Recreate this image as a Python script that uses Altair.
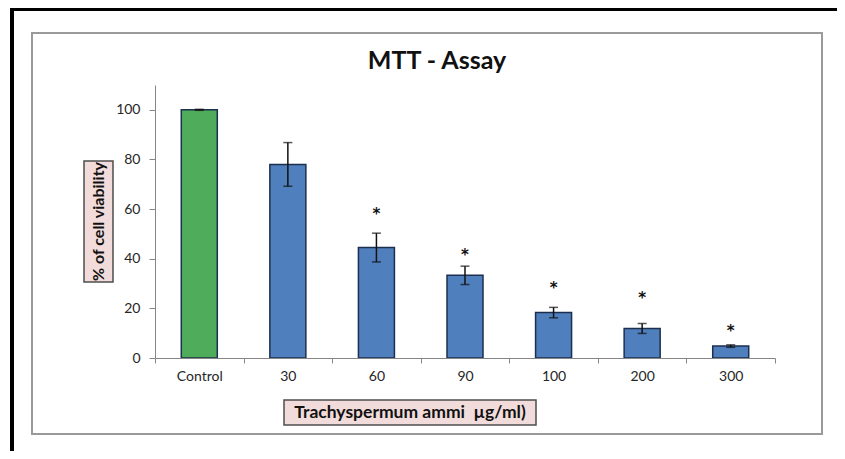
import altair as alt
import pandas as pd

categories = ["Control", "30", "60", "90", "100", "200", "300"]
viability = [100, 78, 44.5, 33.3, 18.3, 11.9, 4.8]
sd = [0.2, 8.8, 5.8, 3.7, 2.1, 2.0, 0.5]
markers = ["", "", "*", "*", "*", "*", "*"]
marker_y = [0, 0, 59, 42.5, 29, 25, 11.7]
groups = ["control", "treated", "treated", "treated", "treated", "treated", "treated"]

df = pd.DataFrame({
    "cat": categories,
    "v": viability,
    "lo": [v - s for v, s in zip(viability, sd)],
    "hi": [v + s for v, s in zip(viability, sd)],
    "mark": markers,
    "my": marker_y,
    "grp": groups,
})

W, H = 620, 273
FONT = "Lato"

x = alt.X("cat:N", sort=categories,
          scale=alt.Scale(paddingInner=0, paddingOuter=0),
          axis=alt.Axis(title=None, labelAngle=0, tickBand="extent", zindex=1,
                        domainColor="#868686", tickColor="#868686", tickSize=5,
                        labelPadding=6, labelFont=FONT, labelFontSize=14,
                        labelColor="#262626"))
yscale = alt.Scale(domain=[0, 110], nice=False)

one = alt.Data(values=[{}])

inner_box = alt.Chart(one).mark_rect(fill="white", stroke="#9a9a9a", strokeWidth=2).encode(
    x=alt.value(-123), x2=alt.value(667), y=alt.value(-52), y2=alt.value(349))
frame_left = alt.Chart(one).mark_rect(fill="black").encode(
    x=alt.value(-145), x2=alt.value(-141), y=alt.value(-80), y2=alt.value(380))
frame_top = alt.Chart(one).mark_rect(fill="black").encode(
    x=alt.value(-145), x2=alt.value(720), y=alt.value(-80), y2=alt.value(-74))

base = alt.Chart(df)
bars = base.mark_bar(size=36, stroke="#1d2f4f", strokeWidth=1.5).encode(
    x=x,
    y=alt.Y("v:Q", scale=yscale,
            axis=alt.Axis(title=None, values=[0, 20, 40, 60, 80, 100], grid=False, zindex=1,
                          domainColor="#868686", tickColor="#868686", tickSize=6,
                          labelPadding=9, labelFont=FONT, labelFontSize=14,
                          labelColor="#262626")),
    color=alt.Color("grp:N", legend=None,
                    scale=alt.Scale(domain=["control", "treated"], range=["#4fac5b", "#4f7fbd"])),
)
stem = base.mark_rule(color="#111111", strokeWidth=1.5).encode(
    x=alt.X("cat:N", sort=categories), y=alt.Y("lo:Q", scale=yscale), y2="hi:Q")
cap_hi = base.mark_tick(color="#111111", size=9, thickness=1.5, orient="horizontal").encode(
    x=alt.X("cat:N", sort=categories), y=alt.Y("hi:Q", scale=yscale))
cap_lo = base.mark_tick(color="#111111", size=9, thickness=1.5, orient="horizontal").encode(
    x=alt.X("cat:N", sort=categories), y=alt.Y("lo:Q", scale=yscale))
stars = base.mark_text(fontSize=15, fontWeight="bold", font="DejaVu Sans", fill="#111111",
                       baseline="middle", dy=2).encode(
    x=alt.X("cat:N", sort=categories), y=alt.Y("my:Q", scale=yscale), text="mark:N")

title = alt.Chart(one).mark_text(text="MTT - Assay", font=FONT, fontSize=25, fontWeight="bold",
                                  fill="#111111", baseline="middle", align="center").encode(
    x=alt.value(282), y=alt.value(-24))

ybox = alt.Chart(one).mark_rect(fill="#f2dcdb", stroke="#4d4d4d", strokeWidth=1.5).encode(
    x=alt.value(-71), x2=alt.value(-42), y=alt.value(76), y2=alt.value(197))
ylab = alt.Chart(one).mark_text(text="% of cell viability", font=FONT, fontSize=16,
                                 fontWeight="bold", angle=270, fill="#111111",
                                 baseline="middle", align="center").encode(
    x=alt.value(-56.5), y=alt.value(136.5))
xbox = alt.Chart(one).mark_rect(fill="#f2dcdb", stroke="#4d4d4d", strokeWidth=1.5).encode(
    x=alt.value(129), x2=alt.value(381), y=alt.value(315), y2=alt.value(340))
xlab = alt.Chart(one).mark_text(text="Trachyspermum ammi\u00a0 µg/ml)", font=FONT, fontSize=17.5,
                                 fontWeight="bold", fill="#111111",
                                 baseline="middle", align="center").encode(
    x=alt.value(255), y=alt.value(327.5))

chart = alt.layer(inner_box, frame_left, frame_top, bars, stem, cap_hi, cap_lo, stars,
                  title, ybox, ylab, xbox, xlab).properties(
    width=W, height=H,
    autosize=alt.AutoSizeParams(type="none"),
    padding={"left": 147, "top": 77, "right": 62, "bottom": 93},
    background="white",
).configure_view(stroke=None)

chart.save("out.html", embed_options={"renderer": "svg", "actions": False})
